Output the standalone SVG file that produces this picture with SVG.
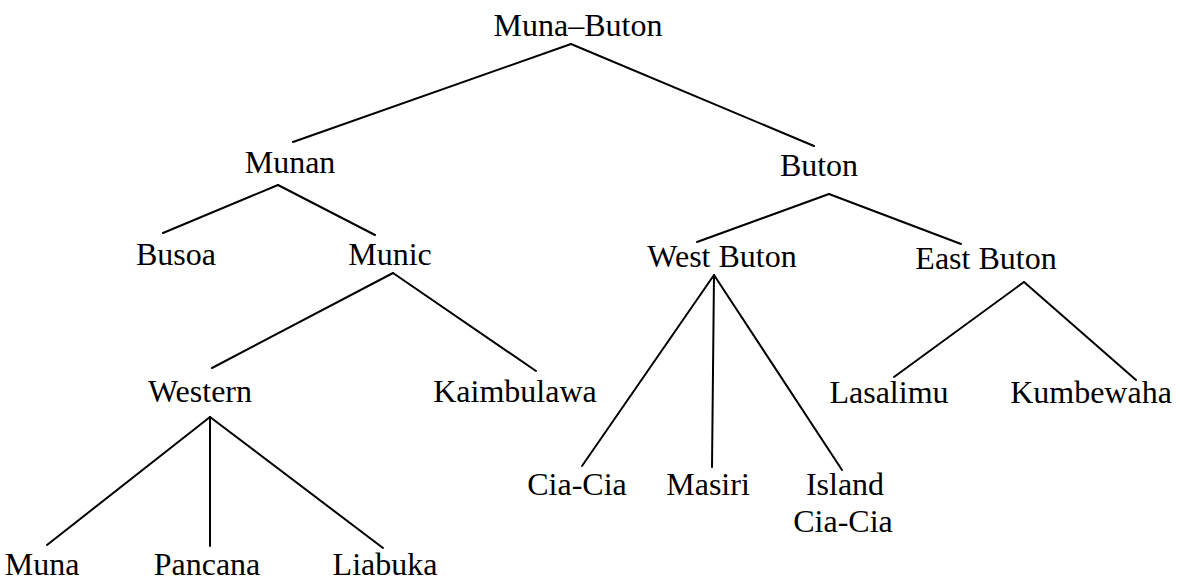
<svg xmlns="http://www.w3.org/2000/svg" width="1180" height="582" viewBox="0 0 1180 582">
<style>
text { font-family: "Liberation Serif", "Times New Roman", serif; font-size: 32px; fill: #000; text-anchor: middle; }
.edge { stroke: #000; stroke-width: 2; fill: none; stroke-linecap: round; }
</style>
<rect width="1180" height="582" fill="#fff"/>
<g id="connectors">
<line class="edge" x1="571" y1="44" x2="293" y2="142"/>
<line class="edge" x1="571" y1="44" x2="814" y2="146"/>
<line class="edge" x1="278" y1="185" x2="163" y2="233"/>
<line class="edge" x1="278" y1="185" x2="375" y2="235"/>
<line class="edge" x1="393" y1="273" x2="212" y2="368"/>
<line class="edge" x1="393" y1="273" x2="536" y2="371"/>
<line class="edge" x1="210" y1="417" x2="47" y2="545"/>
<line class="edge" x1="210" y1="417" x2="210" y2="546"/>
<line class="edge" x1="210" y1="417" x2="383" y2="548"/>
<line class="edge" x1="829" y1="194" x2="697" y2="242"/>
<line class="edge" x1="829" y1="194" x2="961" y2="244"/>
<line class="edge" x1="714" y1="275" x2="582" y2="466"/>
<line class="edge" x1="714" y1="275" x2="712" y2="467"/>
<line class="edge" x1="714" y1="275" x2="842" y2="470"/>
<line class="edge" x1="1024" y1="282" x2="894" y2="377"/>
<line class="edge" x1="1024" y1="282" x2="1136" y2="380"/>
</g>
<g id="muna-buton"><text x="578" y="36">Muna–Buton</text></g>
<g id="munan"><text x="290" y="173">Munan</text></g>
<g id="buton"><text x="819" y="176">Buton</text></g>
<g id="busoa"><text x="176" y="265">Busoa</text></g>
<g id="munic"><text x="390" y="265">Munic</text></g>
<g id="west-buton"><text x="722" y="267">West Buton</text></g>
<g id="east-buton"><text x="986" y="269">East Buton</text></g>
<g id="western"><text x="200" y="402">Western</text></g>
<g id="kaimbulawa"><text x="515" y="402">Kaimbulawa</text></g>
<g id="lasalimu"><text x="889" y="403">Lasalimu</text></g>
<g id="kumbewaha"><text x="1091" y="403">Kumbewaha</text></g>
<g id="cia-cia"><text x="577" y="495">Cia-Cia</text></g>
<g id="masiri"><text x="708" y="495">Masiri</text></g>
<g id="island-cia-cia"><text x="845" y="495">Island</text><text x="843" y="532">Cia-Cia</text></g>
<g id="muna"><text x="42" y="575">Muna</text></g>
<g id="pancana"><text x="207" y="575">Pancana</text></g>
<g id="liabuka"><text x="385" y="575">Liabuka</text></g>
</svg>
